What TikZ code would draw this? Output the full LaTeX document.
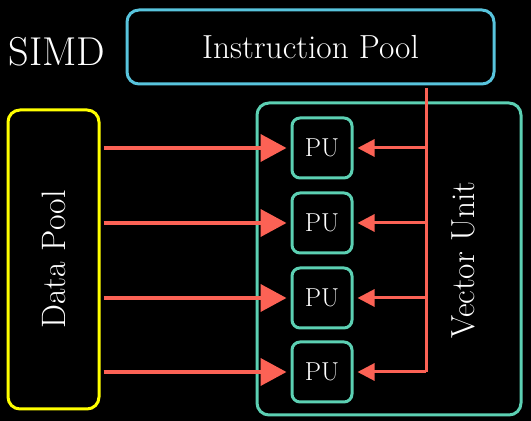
\documentclass[tikz,border=0pt]{standalone}
\usepackage{fontspec}
\usepackage{tikz}
\usetikzlibrary{arrows.meta,shapes}

\definecolor{poolblue}{HTML}{58C4DD}
\definecolor{unitteal}{HTML}{5CD0B3}
\definecolor{poolyellow}{HTML}{FFFF00}
\definecolor{wirered}{HTML}{FC6255}

\tikzset{
  box/.style={draw, line width=3bp, rounded corners=12bp, inner sep=0pt, text=white},
  pubox/.style={box, draw=unitteal, rounded corners=8bp, minimum width=60bp, minimum height=60bp,
    font=\fontsize{26}{31}\selectfont},
  datawire/.style={wirered, line width=4bp, -{Triangle[length=26bp,width=27bp]}, shorten >=4bp},
  instrwire/.style={wirered, line width=3bp, -{Triangle[length=17bp,width=17bp]}, shorten >=4bp},
}

\begin{document}
\begin{tikzpicture}[line join=round]
\fill[black] (0bp,0bp) rectangle (531bp,421bp);
\useasboundingbox (0bp,0bp) rectangle (531bp,421bp);

% Node: title
\node[text=white, font=\fontsize{40.5}{48}\selectfont] (simd) at (57bp,369bp) {SIMD};

% Node: ipool
\node[box, draw=poolblue, minimum width=367bp, minimum height=74bp,
  font=\fontsize{33.5}{40}\selectfont] (ipool) at (310.5bp,374bp) {Instruction Pool};

% Node: dpool
\node[box, draw=poolyellow, minimum width=91bp, minimum height=299bp] (dpool) at (53.5bp,161.5bp) {};
\node[text=white, rotate=90, font=\fontsize{34}{40}\selectfont] (dlabel) at (dpool.center) {Data Pool};

% Node: vunit
\node[box, draw=unitteal, minimum width=264bp, minimum height=312bp] (vunit) at (389bp,162bp) {};
\node[text=white, rotate=90, font=\fontsize{33.5}{40}\selectfont] (vlabel) at (463bp,161bp) {Vector Unit};

% Nodes: pu1 .. pu4
\node[pubox] (pu1) at (322bp,273bp) {PU};
\node[pubox] (pu2) at (322bp,198bp) {PU};
\node[pubox] (pu3) at (322bp,123bp) {PU};
\node[pubox] (pu4) at (322bp,49bp) {PU};

% Edge: dpool -> pu
\foreach \p in {pu1,pu2,pu3,pu4}
  \draw[datawire] ([xshift=3bp]dpool.east |- \p) -- (\p.west);

% Edge: ipool -> pu
\coordinate (bustop) at (426bp,333bp);
\coordinate (busbot) at (bustop |- pu4);
\draw[wirered, line width=3bp] (bustop) -- (busbot);
\foreach \p in {pu1,pu2,pu3,pu4}
  \draw[instrwire] (bustop |- \p) -- (\p.east);
%
\end{tikzpicture}
\end{document}
